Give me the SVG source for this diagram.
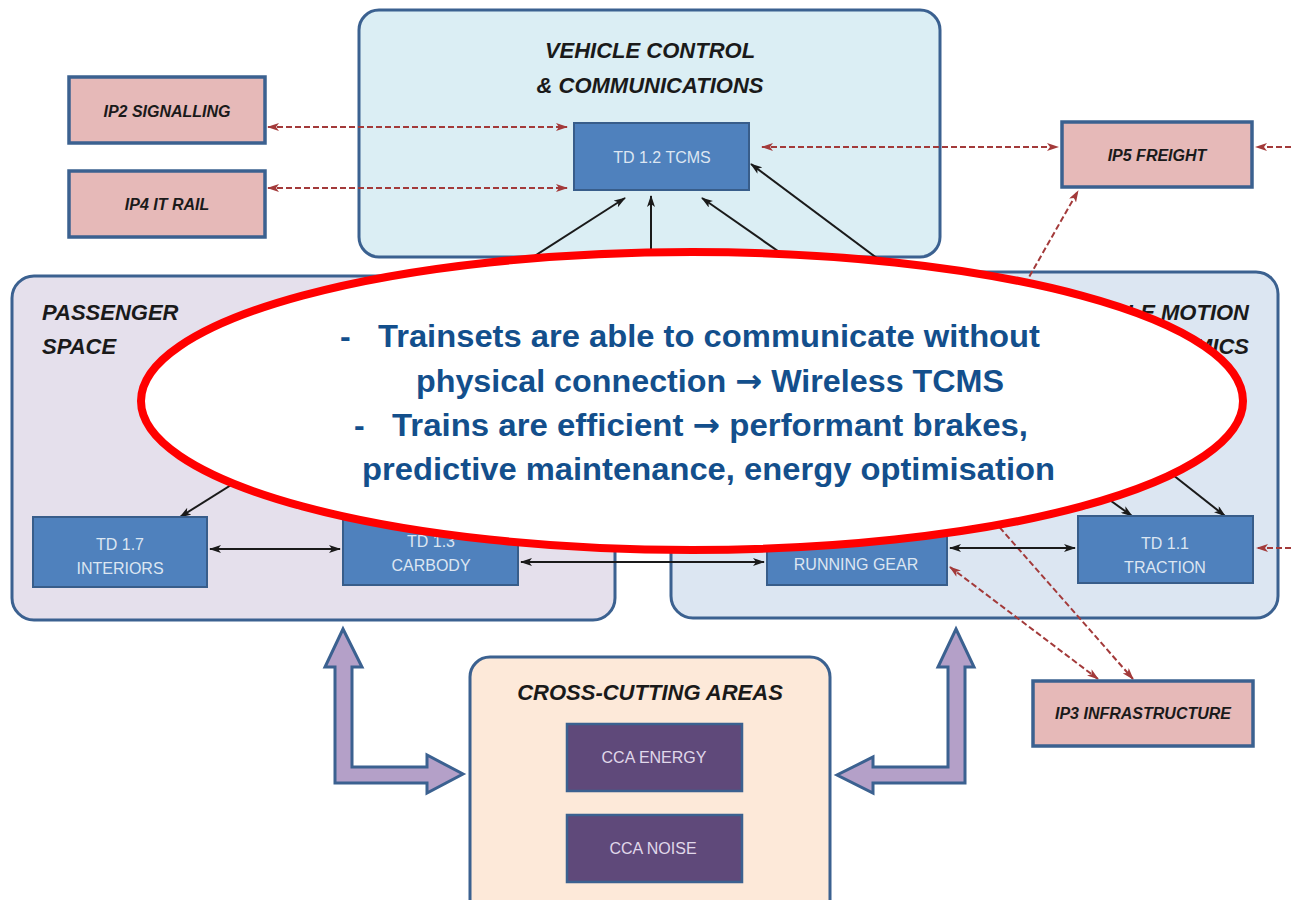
<svg xmlns="http://www.w3.org/2000/svg" width="1291" height="900" viewBox="0 0 1291 900">
<defs>
<style>
.grp{stroke:#3b6190;stroke-width:3}
.ip{fill:#e6b9b8;stroke:#3b6190;stroke-width:3.5}
.td{fill:#4f81bd;stroke:#385d8a;stroke-width:2}
.cca{fill:#5f497a;stroke:#3b6190;stroke-width:2.5}
.title{font-family:"Liberation Sans",Arial,sans-serif;font-weight:bold;font-style:italic;font-size:22px;fill:#1a1a1a}
.iplab{font-family:"Liberation Sans",Arial,sans-serif;font-weight:bold;font-style:italic;font-size:16px;fill:#1a1a1a;text-anchor:middle}
.tdlab{font-family:"Liberation Sans",Arial,sans-serif;font-size:16px;fill:#dce6f2;text-anchor:middle}
.ccalab{font-family:"Liberation Sans",Arial,sans-serif;font-size:16px;fill:#e0d8ea;text-anchor:middle}
.blk{stroke:#1a1a1a;stroke-width:2;fill:none}
.red{stroke:#a33a3a;stroke-width:2;fill:none;stroke-dasharray:6 3}
.blockarrow{fill:#b4a0c8;stroke:#3b6190;stroke-width:3;stroke-linejoin:miter}
.msg{font-family:"Liberation Sans",Arial,sans-serif;font-weight:bold;font-size:32px;fill:#134f8c}
.arr{font-family:"DejaVu Sans",sans-serif;font-weight:bold}
</style>
<marker id="ahb" viewBox="0 0 12 8" refX="11" refY="4" markerWidth="12" markerHeight="8" markerUnits="userSpaceOnUse" orient="auto-start-reverse"><path d="M0,0 L12,4 L0,8 L3,4 z" fill="#1a1a1a"/></marker>
<marker id="ahr" viewBox="0 0 12 8" refX="11" refY="4" markerWidth="12" markerHeight="8" markerUnits="userSpaceOnUse" orient="auto-start-reverse"><path d="M0,0 L12,4 L0,8 L3,4 z" fill="#a33a3a"/></marker>
</defs>
<rect width="1291" height="900" fill="#ffffff"/>

<g id="vehicle-control">
<rect class="grp" x="359" y="10" width="581" height="247" rx="20" fill="#dbeef4"/>
<text class="title" x="650" y="58" text-anchor="middle">VEHICLE CONTROL</text>
<text class="title" x="650" y="93" text-anchor="middle">&amp; COMMUNICATIONS</text>
</g>
<g id="passenger-space">
<rect class="grp" x="12" y="276" width="603" height="344" rx="22" fill="#e5e0ec"/>
<text class="title" x="42" y="320">PASSENGER</text>
<text class="title" x="42" y="354">SPACE</text>
</g>
<g id="vehicle-motion">
<rect class="grp" x="671" y="272" width="607" height="346" rx="22" fill="#dce6f2"/>
<text class="title" x="1249" y="320" text-anchor="end">VEHICLE MOTION</text>
<text class="title" x="1249" y="354" text-anchor="end">&amp; DYNAMICS</text>
</g>
<g id="cross-cutting">
<rect class="grp" x="470" y="657" width="360" height="270" rx="20" fill="#fde9d9"/>
<text class="title" x="650" y="700" text-anchor="middle">CROSS-CUTTING AREAS</text>
</g>

<g id="connectors">
<line class="red" x1="268" y1="127" x2="567" y2="127" marker-start="url(#ahr)" marker-end="url(#ahr)"/>
<line class="red" x1="268" y1="188" x2="567" y2="188" marker-start="url(#ahr)" marker-end="url(#ahr)"/>
<line class="red" x1="762" y1="147" x2="1058" y2="147" marker-start="url(#ahr)" marker-end="url(#ahr)"/>
<line class="red" x1="1291" y1="147" x2="1256" y2="147" marker-end="url(#ahr)"/>
<line class="red" x1="1016" y1="300" x2="1078" y2="191" marker-end="url(#ahr)"/>
<line class="red" x1="1291" y1="548" x2="1257" y2="548" marker-end="url(#ahr)"/>
<line class="red" x1="950" y1="567" x2="1098" y2="679" marker-start="url(#ahr)" marker-end="url(#ahr)"/>
<line class="red" x1="958" y1="480" x2="1133" y2="679" marker-end="url(#ahr)"/>

<line class="blk" x1="466" y1="300" x2="625" y2="198" marker-end="url(#ahb)"/>
<line class="blk" x1="651" y1="300" x2="651" y2="196" marker-end="url(#ahb)"/>
<line class="blk" x1="848" y1="300" x2="702" y2="198" marker-end="url(#ahb)"/>
<line class="blk" x1="933" y1="300" x2="751" y2="164" marker-end="url(#ahb)"/>
<line class="blk" x1="303" y1="440" x2="180" y2="517" marker-end="url(#ahb)"/>
<line class="blk" x1="210" y1="549" x2="340" y2="549" marker-start="url(#ahb)" marker-end="url(#ahb)"/>
<line class="blk" x1="521" y1="562" x2="764" y2="562" marker-start="url(#ahb)" marker-end="url(#ahb)"/>
<line class="blk" x1="950" y1="548" x2="1075" y2="548" marker-start="url(#ahb)" marker-end="url(#ahb)"/>
<line class="blk" x1="1068" y1="470" x2="1132" y2="516" marker-end="url(#ahb)"/>
<line class="blk" x1="1116" y1="430" x2="1225" y2="516" marker-end="url(#ahb)"/>

<polygon class="blockarrow" points="343,629 362,667 352,667 352,767 427,767 427,755 463,774 427,793 427,783 335,783 335,667 325,667"/>
<polygon class="blockarrow" points="956,629 974,667 965,667 965,783 873,783 873,793 837,775 873,757 873,767 948,767 948,667 938,667"/>
</g>

<g id="ip2"><rect class="ip" x="69" y="77" width="196" height="66"/><text class="iplab" x="167" y="117">IP2 SIGNALLING</text></g>
<g id="ip4"><rect class="ip" x="69" y="171" width="196" height="66"/><text class="iplab" x="167" y="210">IP4 IT RAIL</text></g>
<g id="ip5"><rect class="ip" x="1062" y="122" width="190" height="65"/><text class="iplab" x="1157" y="161">IP5 FREIGHT</text></g>
<g id="ip3"><rect class="ip" x="1033" y="681" width="220" height="65"/><text class="iplab" x="1143" y="719">IP3 INFRASTRUCTURE</text></g>

<g id="td12"><rect class="td" x="574" y="123" width="175" height="67"/><text class="tdlab" x="662" y="163">TD 1.2 TCMS</text></g>
<g id="td17"><rect class="td" x="33" y="517" width="174" height="70"/><text class="tdlab" x="120" y="550">TD 1.7</text><text class="tdlab" x="120" y="574">INTERIORS</text></g>
<g id="td13"><rect class="td" x="343" y="515" width="175" height="70"/><text class="tdlab" x="431" y="547">TD 1.3</text><text class="tdlab" x="431" y="571">CARBODY</text></g>
<g id="running-gear"><rect class="td" x="767" y="518" width="180" height="67"/><text class="tdlab" x="856" y="570">RUNNING GEAR</text></g>
<g id="td11"><rect class="td" x="1078" y="516" width="175" height="67"/><text class="tdlab" x="1165" y="549">TD 1.1</text><text class="tdlab" x="1165" y="573">TRACTION</text></g>
<g id="cca-energy"><rect class="cca" x="567" y="724" width="175" height="67"/><text class="ccalab" x="654" y="763">CCA ENERGY</text></g>
<g id="cca-noise"><rect class="cca" x="567" y="815" width="175" height="67"/><text class="ccalab" x="653" y="854">CCA NOISE</text></g>

<g id="callout">
<ellipse cx="692" cy="401" rx="551" ry="149" fill="#ffffff" stroke="#ff0000" stroke-width="8"/>
<text class="msg" x="340" y="347">-</text>
<text class="msg" x="378" y="347" textLength="662" lengthAdjust="spacingAndGlyphs">Trainsets are able to communicate without</text>
<text class="msg" x="416" y="392" textLength="588" lengthAdjust="spacingAndGlyphs">physical connection <tspan class="arr">→</tspan> Wireless TCMS</text>
<text class="msg" x="354" y="436">-</text>
<text class="msg" x="392" y="436" textLength="636" lengthAdjust="spacingAndGlyphs">Trains are efficient <tspan class="arr">→</tspan> performant brakes,</text>
<text class="msg" x="362" y="480" textLength="693" lengthAdjust="spacingAndGlyphs">predictive maintenance, energy optimisation</text>
</g>
</svg>
